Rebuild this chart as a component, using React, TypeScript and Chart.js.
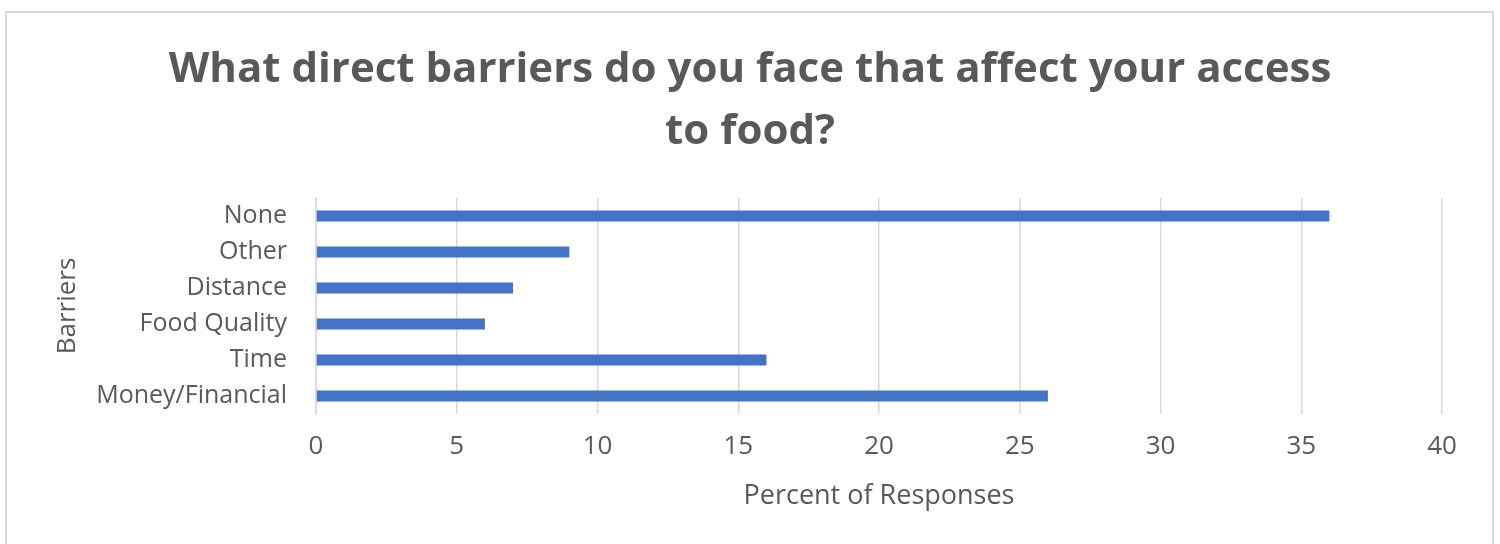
import React, { useEffect, useRef } from "react";
import { Chart, registerables } from "chart.js";

Chart.register(...registerables);

const categories = ["None", "Other", "Distance", "Food Quality", "Time", "Money/Financial"];
const percentValues = [36, 9, 7, 6, 16, 26];
const titleLines = ["What direct barriers do you face that affect your access", "to food?"];
const xAxisTitle = "Percent of Responses";
const yAxisTitle = "Barriers";

const FONT = "'Open Sans', sans-serif";
const TEXT = "#595959";
const GRID = "#d9d9d9";

export default function App() {
  const ref = useRef<HTMLCanvasElement | null>(null);

  useEffect(() => {
    if (!ref.current) return;
    const chart = new Chart(ref.current, {
      type: "bar",
      data: {
        labels: categories,
        datasets: [
          {
            data: percentValues,
            backgroundColor: "#4472C4",
            borderWidth: 0,
            categoryPercentage: 1,
            barPercentage: 0.3,
          },
        ],
      },
      options: {
        indexAxis: "y",
        responsive: false,
        animation: false,
        layout: { padding: { left: 58, right: 58, top: 0, bottom: 0 } },
        plugins: {
          legend: { display: false },
          tooltip: { enabled: false },
          title: {
            display: true,
            text: titleLines,
            color: TEXT,
            font: { family: FONT, size: 42, weight: "bold", lineHeight: 62 / 42 },
            padding: { top: 39, bottom: 35 },
          },
        },
        scales: {
          x: {
            min: 0,
            max: 40,
            ticks: {
              stepSize: 5,
              color: TEXT,
              font: { family: FONT, size: 26 },
              padding: 17,
            },
            grid: { color: GRID, lineWidth: 1.5, drawTicks: false },
            border: { display: false },
            title: {
              display: true,
              text: xAxisTitle,
              color: TEXT,
              font: { family: FONT, size: 27 },
              padding: { top: 0, bottom: 31 },
            },
            afterFit: (scale: any) => {
              scale.height = 130;
            },
          },
          y: {
            ticks: {
              color: TEXT,
              font: { family: FONT, size: 25 },
              padding: 21,
            },
            grid: { display: false },
            border: { display: true, color: GRID, width: 1.5 },
            title: {
              display: true,
              text: yAxisTitle,
              color: TEXT,
              font: { family: FONT, size: 26, lineHeight: 0.6 },
              padding: { top: 2, bottom: 0 },
            },
            afterFit: (scale: any) => {
              scale.width = 258;
            },
          },
        },
      },
    });
    return () => chart.destroy();
  }, []);

  return (
    <div style={{ position: "absolute", left: 0, top: 0, width: 1500, height: 544, overflow: "hidden", background: "#fff" }}>
      <div
        style={{
          position: "absolute",
          left: 5,
          top: 11,
          width: 1489,
          height: 600,
          boxSizing: "border-box",
          border: `2px solid ${GRID}`,
        }}
      />
      <canvas ref={ref} width={1500} height={544} style={{ position: "absolute", left: 0, top: 0 }} />
    </div>
  );
}
